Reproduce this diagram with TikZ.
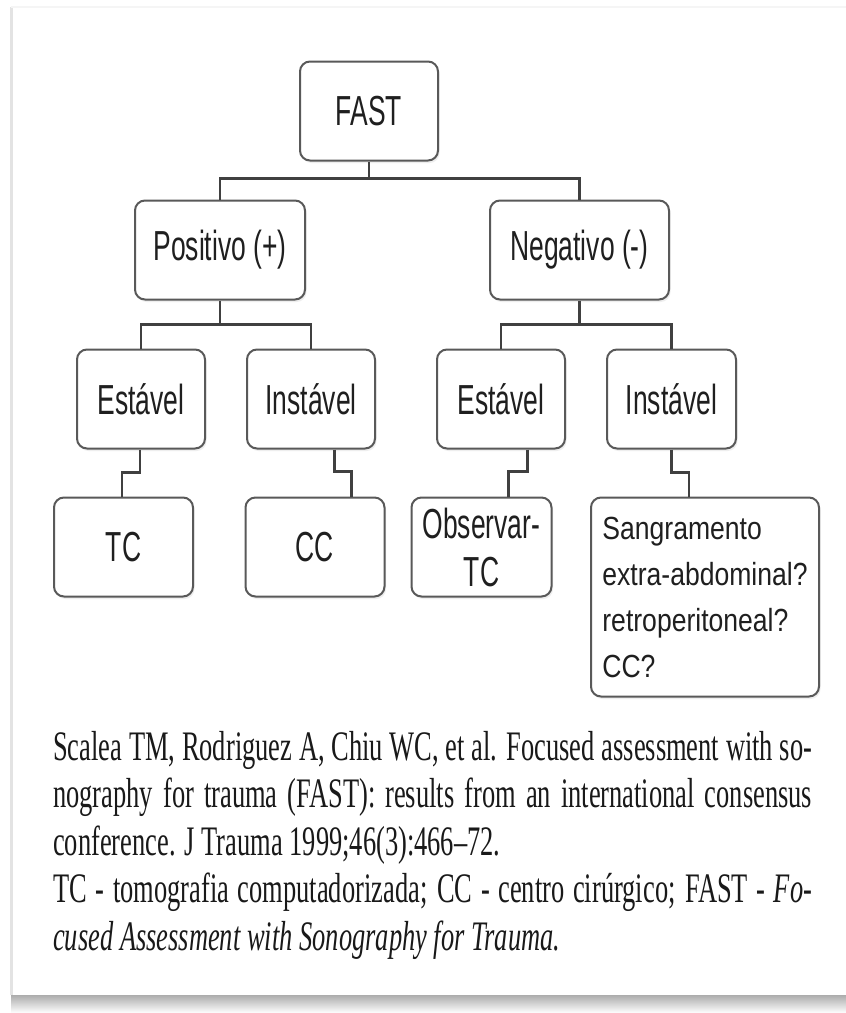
\documentclass[tikz,border=0pt]{standalone}
\usepackage{fontspec}
\newfontfamily\boxfont{Liberation Sans}[FakeStretch=0.63]
\newfontfamily\longfont{Liberation Sans}[FakeStretch=0.83]
\newfontfamily\capfont{Liberation Serif}[FakeStretch=0.63]
\usetikzlibrary{positioning, shadows}

\begin{document}
\begin{tikzpicture}[
  x=1pt, y=1pt,
  box/.style     = {draw=gray!70!black, line width=2pt, rounded corners=10pt,
                    fill=white, minimum width=128pt, minimum height=99pt,
                    inner sep=0pt, align=center, text=black!88,
                    font=\boxfont\fontsize{42}{48}\selectfont,
                    drop shadow={shadow xshift=1.5pt, shadow yshift=-2.5pt,
                                 fill=gray!25}},
  link/.style    = {draw=gray!50!black, line width=2.4pt},
  caption/.style = {text width=759pt, align=justify, inner sep=0pt,
                    text=black!90,
                    font=\capfont\fontsize{42}{47.5}\selectfont,
                    execute at begin node={\tolerance=9999 \hyphenpenalty=10000}}
]
% page
\useasboundingbox (0,0) rectangle (846,-1013);
\fill[white] (0,0) rectangle (846,-1013);
\shade[top color=gray!65, bottom color=white] (11,-995) rectangle (846,-1013);
\draw[gray!22, line width=3pt] (11,-995) -- (11,-7);
\draw[gray!8, line width=2pt] (11,-7) -- (846,-7);
% boxes
\node[box, minimum width=138pt] (fast) at (369,-111) {FAST};
\node[box, minimum width=170pt, below=38pt of fast, xshift=-149pt] (pos) {Positivo (+)};
\node[box, minimum width=179pt, right=183pt of pos] (neg) {Negativo (-)};
\node[box, below=48pt of pos, xshift=-79pt] (est1) {Estável};
\node[box, right=40pt of est1] (ins1) {Instável};
\node[box, right=60pt of ins1] (est2) {Estável};
\node[box, minimum width=129pt, right=40pt of est2] (ins2) {Instável};
\node[box, minimum width=139pt, below=47pt of est1, xshift=-17.5pt] (tc) {TC};
\node[box, minimum width=139pt, below=47pt of ins1, xshift=4pt] (cc) {CC};
\node[box, minimum width=140pt, below=47pt of est2, xshift=-19.5pt] (obs) {Observar-\\TC};
\node[box, minimum width=228pt, minimum height=199pt, align=left,
      font=\longfont\fontsize{32}{46}\selectfont,
      below=47pt of ins2, xshift=33.5pt] (sang)
  {Sangramento\\extra-abdominal?\\retroperitoneal?\\CC?};
% connectors
\coordinate (j0) at ([yshift=-17pt]fast.south);
\draw[link] (fast.south) -- (j0) -| (pos.north);
\draw[link] (j0) -| (neg.north);
\coordinate (j1) at ([yshift=-24pt]pos.south);
\draw[link] (pos.south) -- (j1) -| (est1.north);
\draw[link] (j1) -| (ins1.north);
\coordinate (j2) at ([yshift=-24pt]neg.south);
\draw[link] (neg.south) -- (j2) -| (est2.north);
\draw[link] (j2) -| (ins2.north);
\draw[link] ([xshift=-1pt]est1.south) -- ++(0,-23) -| ([xshift=-1.5pt]tc.north);
\draw[link] ([xshift=23.5pt]ins1.south) -- ++(0,-22) -| ([xshift=36.5pt]cc.north);
\draw[link] ([xshift=26.5pt]est2.south) -- ++(0,-22) -| ([xshift=27pt]obs.north);
\draw[link] (ins2.south) -- ++(0,-23) -| ([xshift=-16pt]sang.north);
% caption
\node[caption, anchor=north west] (ref) at (53,-731)
  {Scalea TM, Rodriguez A, Chiu WC, et al. Focused assessment with so-\linebreak
   nography for trauma (FAST): results from an international consensus\linebreak
   conference. J Trauma 1999;46(3):466–72.\\
   TC - tomografia computadorizada; CC - centro cirúrgico; FAST - \textit{Fo-}\linebreak
   \textit{cused Assessment with Sonography for Trauma.}};
\end{tikzpicture}
\end{document}
